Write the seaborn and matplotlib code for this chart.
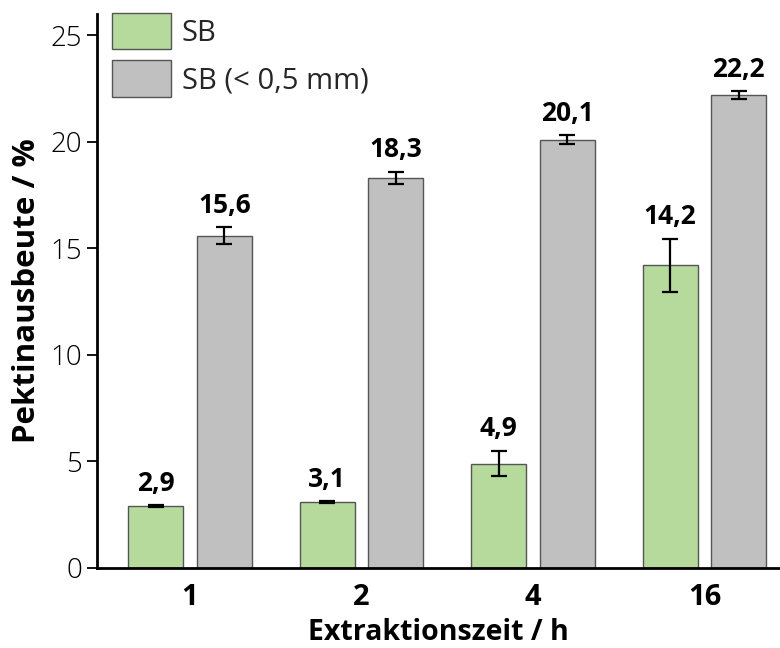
import matplotlib
matplotlib.use("Agg")
import matplotlib.pyplot as plt
import seaborn as sns
import pandas as pd
import numpy as np

# Extraction times (h) and pectin yields (%) with standard deviations
times = ["1", "2", "4", "16"]
series = ["SB", "SB (< 0,5 mm)"]
yield_sb = [2.9, 3.1, 4.9, 14.2]
err_sb = [0.06, 0.03, 0.6, 1.25]
yield_fine = [15.6, 18.3, 20.1, 22.2]
err_fine = [0.4, 0.3, 0.2, 0.17]

colors = ["#b6d99c", "#c0c0c0"]

df = pd.DataFrame({
    "Zeit": times * 2,
    "Serie": [series[0]] * 4 + [series[1]] * 4,
    "Ausbeute": yield_sb + yield_fine,
    "Fehler": err_sb + err_fine,
})

sns.set_theme(style="ticks")
plt.rcParams["font.family"] = ["Open Sans", "DejaVu Sans"]

fig = plt.figure(figsize=(7.8, 6.48), dpi=100)
ax = fig.add_axes([0.1244, 0.1235, 0.8756, 0.855])

sns.barplot(data=df, x="Zeit", y="Ausbeute", hue="Serie", order=times,
            hue_order=series, palette=colors, width=0.8, gap=0.2,
            errorbar=None, edgecolor="#555555", linewidth=1.0, ax=ax,
            saturation=1)

# Error bars and value labels at each bar centre
for cont, s in zip(ax.containers, series):
    sub = df[df["Serie"] == s].set_index("Zeit").loc[times]
    for bar, (val, err) in zip(cont, zip(sub["Ausbeute"], sub["Fehler"])):
        cx = bar.get_x() + bar.get_width() / 2
        ax.errorbar(cx, val, yerr=err, fmt="none", ecolor="black",
                    elinewidth=1.6, capsize=5.5, capthick=1.6, zorder=5)
        ax.annotate(f"{val:.1f}".replace(".", ","), (cx, val + err),
                    xytext=(0, 6), textcoords="offset points",
                    ha="center", va="bottom", fontsize=19,
                    fontweight="bold", color="black")

ax.set_xlim(-0.542, 3.44)
ax.set_ylim(0, 26)
ax.set_yticks([0, 5, 10, 15, 20, 25])
ax.tick_params(axis="y", labelsize=20, length=7, width=1.3, direction="out",
               color="black", labelcolor="black", pad=4)
ax.tick_params(axis="x", labelsize=21, length=0, pad=11, labelcolor="black")
for lab in ax.get_xticklabels():
    lab.set_fontweight("bold")
for lab in ax.get_yticklabels():
    lab.set_fontweight("light")

sns.despine(ax=ax)
for sp in ("left", "bottom"):
    ax.spines[sp].set_linewidth(2.0)
    ax.spines[sp].set_color("black")

ax.set_xlabel("Extraktionszeit / h", fontsize=20.5, fontweight="bold",
              labelpad=4.5, color="black")
ax.set_ylabel("Pektinausbeute / %", fontsize=22.5, fontweight="bold",
              labelpad=6, color="black")

leg = ax.legend(loc="upper left", bbox_to_anchor=(0.0225, 1.002), frameon=False,
                fontsize=21, handlelength=2.02, handleheight=1.54,
                handletextpad=0.35, labelspacing=0.38, borderaxespad=0.0,
                borderpad=0.0)
for h in leg.legend_handles:
    h.set_edgecolor("#555555")
    h.set_linewidth(1.0)

fig.savefig("out.png", dpi=100)
